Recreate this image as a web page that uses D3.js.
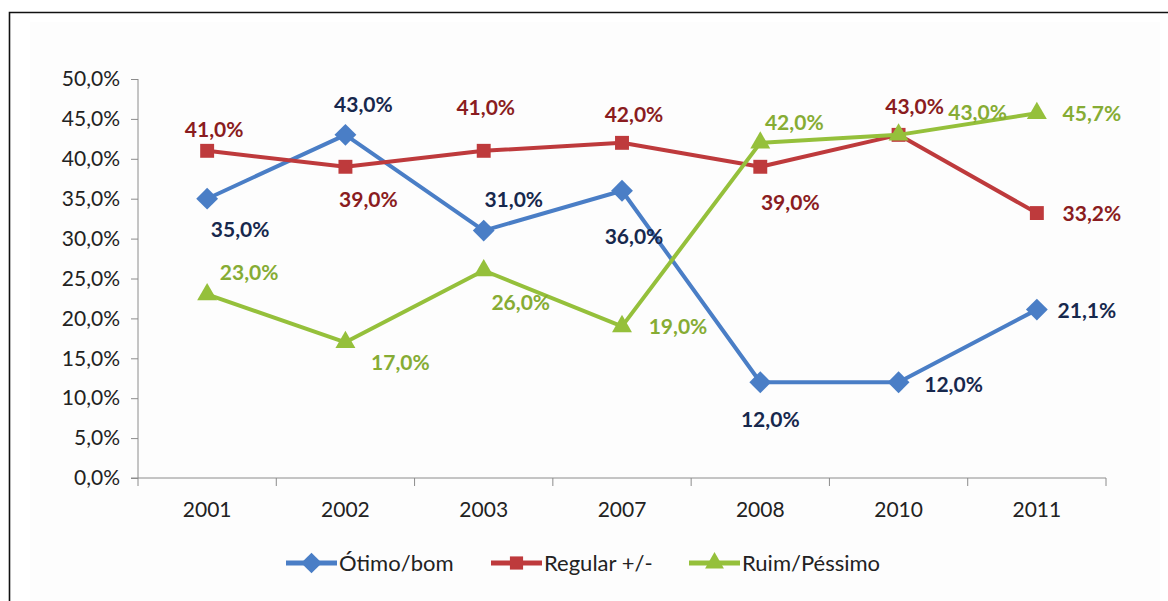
<!DOCTYPE html>
<html>
<head>
<meta charset="utf-8">
<script src="https://cdn.jsdelivr.net/npm/d3@7"></script>
<style>
  body { margin: 0; background: #fff; }
  svg text { font-family: Lato, "Open Sans", sans-serif; }
</style>
</head>
<body>
<svg id="chart" width="1168" height="601"></svg>
<script>
const years = ['2001', '2002', '2003', '2007', '2008', '2010', '2011'];
const otimo = [35.0, 43.0, 31.0, 36.0, 12.0, 12.0, 21.1];
const regular = [41.0, 39.0, 41.0, 42.0, 39.0, 43.0, 33.2];
const ruim = [23.0, 17.0, 26.0, 19.0, 42.0, 43.0, 45.7];
const yTicks = [0, 5, 10, 15, 20, 25, 30, 35, 40, 45, 50];

// where each data label sits relative to its marker (px)
const otimoLabelPos = [[33, 31], [18, -30], [30, -31], [12, 46], [10, 37], [55, 2], [50, 1]];
const regularLabelPos = [[7, -21], [23, 33], [2, -43], [12, -28], [30, 36], [16, -28], [55, 1]];
const ruimLabelPos = [[42, -22], [55, 20], [37, 32], [56, 0], [34, -20], [79, -22], [55, 0]];

const series = [
  {name: 'Ótimo/bom', values: otimo, pos: otimoLabelPos, color: '#4a7ec6', labelColor: '#17284d', symbol: 'diamond'},
  {name: 'Regular +/-', values: regular, pos: regularLabelPos, color: '#be3a3c', labelColor: '#8a1c20', symbol: 'square'},
  {name: 'Ruim/Péssimo', values: ruim, pos: ruimLabelPos, color: '#95c03b', labelColor: '#86ac34', symbol: 'triangle'}
];

const locale = d3.formatLocale({decimal: ',', thousands: '.', grouping: [3], currency: ['R$', '']});
const fmt = v => locale.format('.1f')(v) + '%';

const svg = d3.select('#chart');

// frame and plot area background
svg.append('rect')
  .attr('x', 30).attr('y', 22).attr('width', 1130).attr('height', 600)
  .attr('fill', '#fdfdfd');
svg.append('path')
  .attr('d', 'M9.5,620 V12.5 H1170')
  .attr('fill', 'none').attr('stroke', '#111').attr('stroke-width', 1.6);

const x = d3.scaleBand().domain(years).range([138, 1106]);
const y = d3.scaleLinear().domain([0, 50]).range([478, 79]);

// y axis
const yAxis = svg.append('g')
  .attr('transform', 'translate(138,0)')
  .call(d3.axisLeft(y).tickValues(yTicks).tickSize(7).tickPadding(11).tickFormat(fmt));
yAxis.selectAll('text').attr('fill', '#222').style('font-size', '21px');
yAxis.selectAll('line, path').attr('stroke', '#8c8c8c');
yAxis.select('.domain').attr('d', 'M0,79 V478');

// x axis with ticks on band edges
const xAxisG = svg.append('g').attr('transform', 'translate(0,478)');
xAxisG.append('line')
  .attr('x1', 131).attr('x2', x.range()[1]).attr('stroke', '#8c8c8c');
xAxisG.selectAll('.tk')
  .data(years.concat(['end']))
  .enter().append('line')
  .attr('x1', (d, i) => 138 + i * x.bandwidth())
  .attr('x2', (d, i) => 138 + i * x.bandwidth())
  .attr('y1', 0).attr('y2', 8)
  .attr('stroke', '#8c8c8c');
xAxisG.selectAll('.lbl')
  .data(years)
  .enter().append('text')
  .attr('x', d => x(d) + x.bandwidth() / 2)
  .attr('y', 39)
  .attr('text-anchor', 'middle')
  .attr('fill', '#222')
  .style('font-size', '21px')
  .text(d => d);

const cx = i => x(years[i]) + x.bandwidth() / 2;

const symbolPath = (type, size) => {
  if (type === 'diamond') return d3.symbol().type(d3.symbolDiamond2).size(size * 1.6)();
  if (type === 'square') return d3.symbol().type(d3.symbolSquare2).size(size * 1.3)();
  return d3.symbol().type(d3.symbolTriangle2).size(size * 1.5)();
};

const line = d3.line().x((d, i) => cx(i)).y(d => y(d));

series.forEach(s => {
  const g = svg.append('g');
  g.append('path')
    .attr('d', line(s.values))
    .attr('fill', 'none')
    .attr('stroke', s.color)
    .attr('stroke-width', 4)
    .attr('stroke-linejoin', 'round');
  g.selectAll('.m')
    .data(s.values)
    .enter().append('path')
    .attr('transform', (d, i) => `translate(${cx(i)},${y(d)})`)
    .attr('d', symbolPath(s.symbol, 190))
    .attr('fill', s.color);
});

// data labels drawn above all lines
series.forEach(s => {
  svg.append('g').selectAll('text')
    .data(s.values)
    .enter().append('text')
    .attr('x', (d, i) => cx(i) + s.pos[i][0])
    .attr('y', (d, i) => y(d) + s.pos[i][1])
    .attr('dy', '0.35em')
    .attr('text-anchor', 'middle')
    .attr('fill', s.labelColor)
    .style('font-size', '21px')
    .style('font-weight', 'bold')
    .text(d => fmt(d));
});

// legend
const legendX = [286, 491, 689];
const legend = svg.append('g').attr('transform', 'translate(0,563)');
series.forEach((s, i) => {
  const lg = legend.append('g').attr('transform', `translate(${legendX[i]},0)`);
  lg.append('line')
    .attr('x1', 0).attr('x2', 51)
    .attr('stroke', s.color).attr('stroke-width', 5);
  lg.append('path')
    .attr('transform', 'translate(25.5,0)')
    .attr('d', symbolPath(s.symbol, 170))
    .attr('fill', s.color);
  lg.append('text')
    .attr('x', 53).attr('dy', '0.35em')
    .attr('fill', '#222')
    .style('font-size', '22px')
    .text(s.name);
});
</script>
</body>
</html>
